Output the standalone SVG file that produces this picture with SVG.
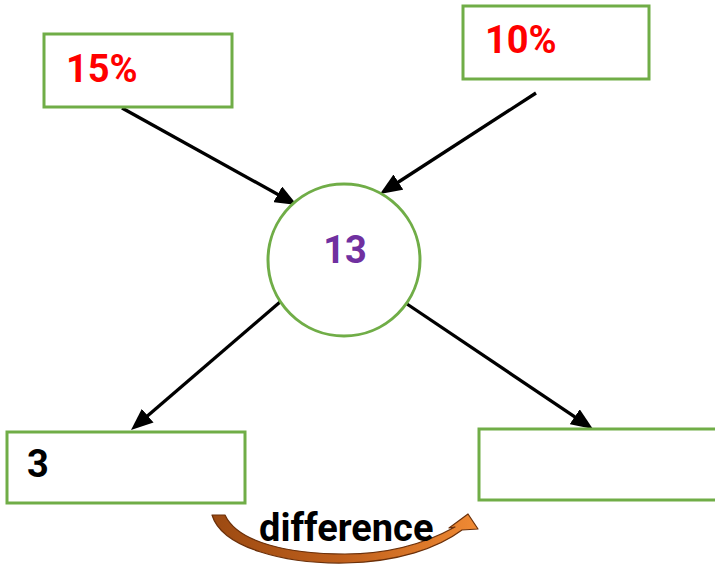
<svg xmlns="http://www.w3.org/2000/svg" width="715" height="564" viewBox="0 0 715 564">
  <style>
    .box { fill: #ffffff; stroke: #70AD47; stroke-width: 3; }
    .lbl { font-family: Roboto, "Liberation Sans", sans-serif; font-weight: bold; font-size: 38px; }
    .red { fill: #FF0000; }
    .edge { stroke: #000000; stroke-width: 3.3; fill: none; marker-end: url(#head); }
  </style>
  <defs>
    <marker id="head" markerUnits="userSpaceOnUse" markerWidth="22" markerHeight="18" refX="10" refY="9" orient="auto" viewBox="0 0 22 18">
      <path d="M0,0 L22,9 L0,18 Z" fill="#000000"/>
    </marker>
    <linearGradient id="swoosh" x1="212" y1="0" x2="478" y2="0" gradientUnits="userSpaceOnUse">
      <stop offset="0" stop-color="#9C4A12"/>
      <stop offset="0.5" stop-color="#C0601C"/>
      <stop offset="1" stop-color="#F08A34"/>
    </linearGradient>
  </defs>

  <g id="connectors">
    <line class="edge" x1="122" y1="108" x2="286.5" y2="199.2"/>
    <line class="edge" x1="536" y1="93" x2="390.0" y2="187.5"/>
    <line class="edge" x1="287" y1="296" x2="140.1" y2="422.2"/>
    <line class="edge" x1="407" y1="304" x2="583.0" y2="422.3"/>
  </g>

  <g id="node-15">
    <rect class="box" x="44" y="34" width="188" height="73"/>
    <text class="lbl red" x="66" y="82">15%</text>
  </g>

  <g id="node-10">
    <rect class="box" x="463" y="6" width="186" height="73"/>
    <text class="lbl red" x="485" y="53">10%</text>
  </g>

  <g id="node-13">
    <circle cx="344" cy="260" r="76" fill="#ffffff" stroke="#70AD47" stroke-width="3"/>
    <text class="lbl" x="345" y="263" text-anchor="middle" fill="#7030A0">13</text>
  </g>

  <g id="node-3">
    <rect class="box" x="7" y="432" width="238" height="71"/>
    <text class="lbl" x="27" y="477" fill="#000000">3</text>
  </g>

  <g id="node-result">
    <rect class="box" x="479" y="429" width="240" height="71"/>
  </g>

  <g id="difference">
    <path d="M212,515 L225,515 C238,543 290,554 345,554 C392,554 428,542 455,527 L449,528 L468,514 L478,529 L462,530 C438,548 398,562 345,563 C285,564 222,548 212,515 Z"
          fill="url(#swoosh)" stroke="#6B300A" stroke-width="1.2" stroke-linejoin="round"/>
    <text class="lbl" x="259" y="541" fill="#000000">difference</text>
  </g>
</svg>
